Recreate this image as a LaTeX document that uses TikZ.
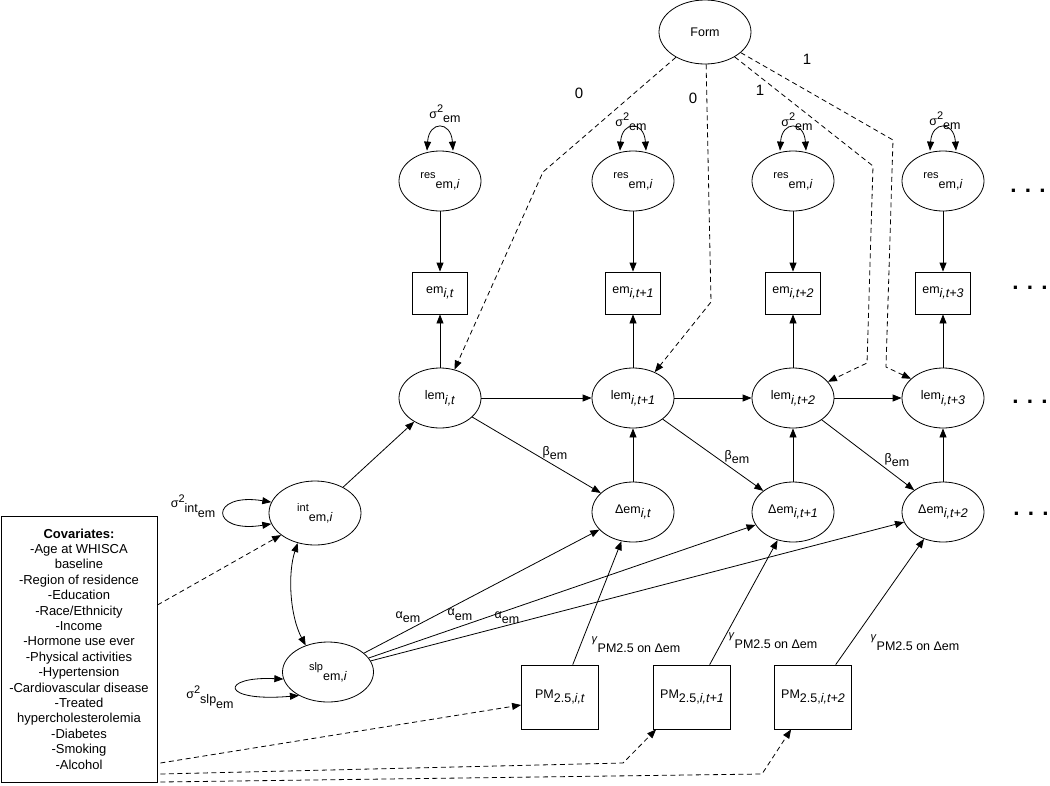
\documentclass[tikz,border=0pt]{standalone}
\usepackage{fontspec}
\setmainfont{Liberation Sans}
\usetikzlibrary{arrows.meta}
\usetikzlibrary{shapes.geometric}
\newcommand{\lo}[1]{\raisebox{-0.7ex}{#1}}
\newcommand{\hi}[1]{\raisebox{0.8ex}{\fontsize{11}{11}\selectfont #1}}

\begin{document}
\begin{tikzpicture}[x=1pt, y=-1pt, line width=0.8pt, >={Triangle[length=9pt,width=7pt]},
  every node/.style={font=\fontsize{12.5}{14}\selectfont},
  latent/.style={draw, ellipse, minimum width=82pt, minimum height=60pt, inner sep=0pt},
  observed/.style={draw, rectangle, minimum width=55pt, minimum height=42pt, inner sep=0pt},
  exposure/.style={draw, rectangle, minimum width=77pt, minimum height=64pt, inner sep=0pt},
  fixed/.style={->, dash pattern=on 5pt off 3.5pt},
  weight/.style={font=\fontsize{15}{15}\selectfont}]

\useasboundingbox (0,0) rectangle (1050,785);

\node [latent, minimum width=92pt, minimum height=64pt] (form) at (705,32) {Form};

\foreach \x/\t [count=\i] in {440/t,633/t+1,793/t+2,943/t+3}
  \node [latent] (res-\i) at (\x,181) {\hi{res}\lo{em,\textit{i}}};

\foreach \x/\t [count=\i] in {440/t,633/t+1,793/t+2,943/t+3}
  \node [observed] (em-\i) at (\x,293) {em\lo{\textit{i,\t}}};

\foreach \x/\t [count=\i] in {440/t,633/t+1,793/t+2,943/t+3}
  \node [latent] (lem-\i) at (\x,398) {lem\lo{\textit{i,\t}}};

\foreach \x/\t [count=\i] in {633/t,793/t+1,943/t+2}
  \node [latent] (delta-\i) at (\x,512) {Δem\lo{\textit{i,\t}}};

\node [latent, minimum width=92pt, minimum height=64pt] (int) at (315,513) {\hi{int}\lo{em,\textit{i}}};
\node [latent, minimum width=91pt] (slp) at (328,672) {\hi{slp}\lo{em,\textit{i}}};

\foreach \x/\t [count=\i] in {560/t,692/t+1,813/t+2}
  \node [exposure] (pm-\i) at (\x,697) {PM\lo{2.5,\textit{i,\t}}};

\node [draw, align=center, minimum width=156pt, minimum height=266pt, inner sep=0pt,
  font=\fontsize{13}{15.4}\selectfont] (cov) at (79,649)
  {\textbf{Covariates:}\\-Age at WHISCA\\baseline\\-Region of residence\\-Education\\
   -Race/Ethnicity\\-Income\\-Hormone use ever\\-Physical activities\\-Hypertension\\
   -Cardiovascular disease\\-Treated\\hypercholesterolemia\\-Diabetes\\-Smoking\\-Alcohol};

% ...
\foreach \x/\y [count=\i] in {1028/191,1030/288,1030/402,1031/514}
  \node [font=\fontsize{22.5}{22}\selectfont\bfseries] (dots-\i) at (\x,\y) {. . .};

% residual variances
\foreach \x/\y [count=\i] in {445/114,631/122,797/122,945/121}
  \node (var-\i) at (\x,\y) {σ\hi{2}\lo{em}};

\foreach \i in {1,...,4}
  \draw [<->] ([xshift=-13pt]res-\i.north) .. controls +(2,-30) and +(-2,-30) .. ([xshift=13pt]res-\i.north);

\node (var-int) at (193,506) {σ\hi{2}\lo{int\lo{em}}};
\node (var-slp) at (210,697) {σ\hi{2}\lo{slp\lo{em}}};
\draw [<->] (int.166) .. controls +(-62,-10) and +(-62,10) .. (int.194);
\draw [<->] (slp.189) .. controls +(-64,-3) and +(-79,7) .. (slp.219);
\draw [<->] (int.240) .. controls +(-10,30) and +(-16,-30) .. (slp.130);

\foreach \i in {1,...,4}
  \draw [->] (res-\i) -- (em-\i);

\foreach \i in {1,...,4}
  \draw [->] (lem-\i) -- (em-\i);

\foreach \i/\j in {1/2,2/3,3/4}
  \draw [->] (lem-\i) -- (lem-\j);

\foreach \i/\j in {1/2,2/3,3/4}
  \draw [->] (delta-\i) -- (lem-\j);

\foreach \i in {1,2,3}
  \draw [->] (lem-\i) -- (delta-\i);

\foreach \i in {1,2,3}
  \draw [->] (slp) -- (delta-\i);

\foreach \i in {1,2,3}
  \draw [->] (pm-\i) -- (delta-\i);

\draw [->] (int) -- (lem-1);

\foreach \x/\y [count=\i] in {555/453,737/457,897/460}
  \node (beta-\i) at (\x,\y) {β\lo{em}};

\foreach \x/\y [count=\i] in {408/617,460/615,507/618}
  \node (alpha-\i) at (\x,\y) {α\lo{em}};

\foreach \x/\y [count=\i] in {636/645,773/641,915/643}
  \node (gamma-\i) at (\x,\y) {\hi{\textit{γ}}\lo{PM2.5 on Δem}};

% loadings of Form
\draw [fixed] (form.221) -- (543,172) -- (lem-1.63);
\draw [fixed] (form.272) -- (711,302) -- (lem-2.50);
\draw [fixed] (form.320) -- (873,166) -- (867,363) -- (lem-3.25);
\draw [fixed] (form.330) -- (893,140) -- (886,367) -- (lem-4.149);

\node [weight] (w-1) at (579,93) {0};
\node [weight] (w-2) at (693,98) {0};
\node [weight] (w-3) at (760,90) {1};
\node [weight] (w-4) at (807,59) {1};

% covariates
\draw [fixed] ([yshift=44pt]cov.east) -- (int.213);
\draw [fixed] ([xshift=3pt,yshift=-114pt]cov.east) -- ([yshift=-8pt]pm-1.west);
\draw [fixed] ([xshift=3pt,yshift=-125pt]cov.east) -- (623,763) -- ([xshift=3pt]pm-2.south west);
\draw [fixed] ([xshift=3pt,yshift=-133pt]cov.east) -- (762,774) -- ([xshift=17pt]pm-3.south west);

\end{tikzpicture}
\end{document}
